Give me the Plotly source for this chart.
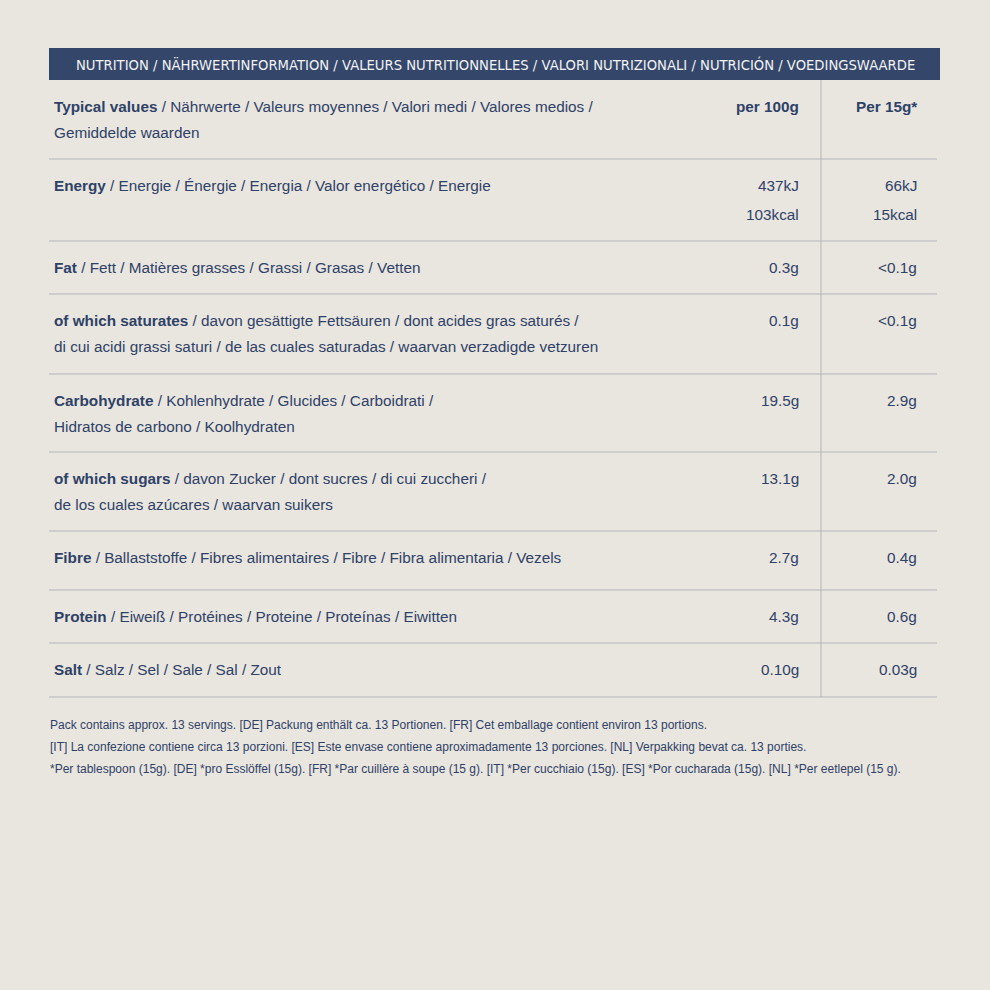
import plotly.graph_objects as go

# table content
title = "NUTRITION / NÄHRWERTINFORMATION / VALEURS NUTRITIONNELLES / VALORI NUTRIZIONALI / NUTRICIÓN / VOEDINGSWAARDE"
col_heads = ["per 100g", "Per 15g*"]

nutrients = ["Typical values", "Energy", "Fat", "of which saturates", "Carbohydrate",
             "of which sugars", "Fibre", "Protein", "Salt"]
translations = [
    [" / Nährwerte / Valeurs moyennes / Valori medi / Valores medios /", "Gemiddelde waarden"],
    [" / Energie / Énergie / Energia / Valor energético / Energie"],
    [" / Fett / Matières grasses / Grassi / Grasas / Vetten"],
    [" / davon gesättigte Fettsäuren / dont acides gras saturés /",
     "di cui acidi grassi saturi / de las cuales saturadas / waarvan verzadigde vetzuren"],
    [" / Kohlenhydrate / Glucides / Carboidrati /", "Hidratos de carbono / Koolhydraten"],
    [" / davon Zucker / dont sucres / di cui zuccheri /", "de los cuales azúcares / waarvan suikers"],
    [" / Ballaststoffe / Fibres alimentaires / Fibre / Fibra alimentaria / Vezels"],
    [" / Eiweiß / Protéines / Proteine / Proteínas / Eiwitten"],
    [" / Salz / Sel / Sale / Sal / Zout"],
]
per_100g = [None, ["437kJ", "103kcal"], ["0.3g"], ["0.1g"], ["19.5g"], ["13.1g"], ["2.7g"], ["4.3g"], ["0.10g"]]
per_15g = [None, ["66kJ", "15kcal"], ["<0.1g"], ["<0.1g"], ["2.9g"], ["2.0g"], ["0.4g"], ["0.6g"], ["0.03g"]]

footnotes = [
    "Pack contains approx. 13 servings. [DE] Packung enthält ca. 13 Portionen. [FR] Cet emballage contient environ 13 portions.",
    "[IT] La confezione contiene circa 13 porzioni. [ES] Este envase contiene aproximadamente 13 porciones. [NL] Verpakking bevat ca. 13 porties.",
    "*Per tablespoon (15g). [DE] *pro Esslöffel (15g). [FR] *Par cuillère à soupe (15 g). [IT] *Per cucchiaio (15g). [ES] *Por cucharada (15g). [NL] *Per eetlepel (15 g).",
]

# layout (pixel coordinates)
row_tops = [80, 159, 241, 294, 374, 452, 531, 590, 643, 697]
bg = "#e9e6e0"
navy = "#34476b"
ink = "#2f4166"
rule = "#b3b5b8"
font_family = "Liberation Sans, Arial, sans-serif"

fig = go.Figure()
fig.add_trace(go.Scatter(x=[0, 990], y=[0, 990], mode="markers", marker=dict(opacity=0), hoverinfo="skip", showlegend=False))

shapes = [dict(type="rect", x0=49, x1=940, y0=48, y1=80, fillcolor=navy, line=dict(width=0), layer="below")]
for yy in row_tops[1:]:
    shapes.append(dict(type="line", x0=49, x1=937, y0=yy, y1=yy, line=dict(color=rule, width=1)))
shapes.append(dict(type="line", x0=821, x1=821, y0=80, y1=697, line=dict(color=rule, width=1)))

annotations = [dict(x=495, y=64, text=title, showarrow=False, xanchor="center", yanchor="middle",
                    font=dict(family="DejaVu Sans, sans-serif", size=13.2, color="#f2f2f2"))]

def txt(x, y, s, anchor="left", size=15.3):
    annotations.append(dict(x=x, y=y, text=s, showarrow=False, xanchor=anchor, yanchor="middle",
                            font=dict(family=font_family, size=size, color=ink)))

for i, name in enumerate(nutrients):
    top = row_tops[i]
    lines = translations[i]
    txt(52, top + 26, "<b>" + name + "</b>" + lines[0])
    for k, extra in enumerate(lines[1:]):
        txt(52, top + 26 + 26 * (k + 1), extra)
    if i == 0:
        txt(801, top + 26, "<b>" + col_heads[0] + "</b>", "right")
        txt(919, top + 26, "<b>" + col_heads[1] + "</b>", "right")
    else:
        for k, v in enumerate(per_100g[i]):
            txt(801, top + 26 + 29 * k, v, "right")
        for k, v in enumerate(per_15g[i]):
            txt(919, top + 26 + 29 * k, v, "right")

for k, line in enumerate(footnotes):
    txt(48, 725 + 22 * k, line, size=12)

fig.update_layout(
    width=990, height=990,
    margin=dict(l=0, r=0, t=0, b=0),
    paper_bgcolor=bg, plot_bgcolor=bg,
    xaxis=dict(range=[0, 990], visible=False, fixedrange=True),
    yaxis=dict(range=[990, 0], visible=False, fixedrange=True),
    shapes=shapes, annotations=annotations,
)
fig.write_html("out.html", config={"displayModeBar": False},
               post_script="document.body.style.margin='0';document.body.style.overflow='hidden';")
